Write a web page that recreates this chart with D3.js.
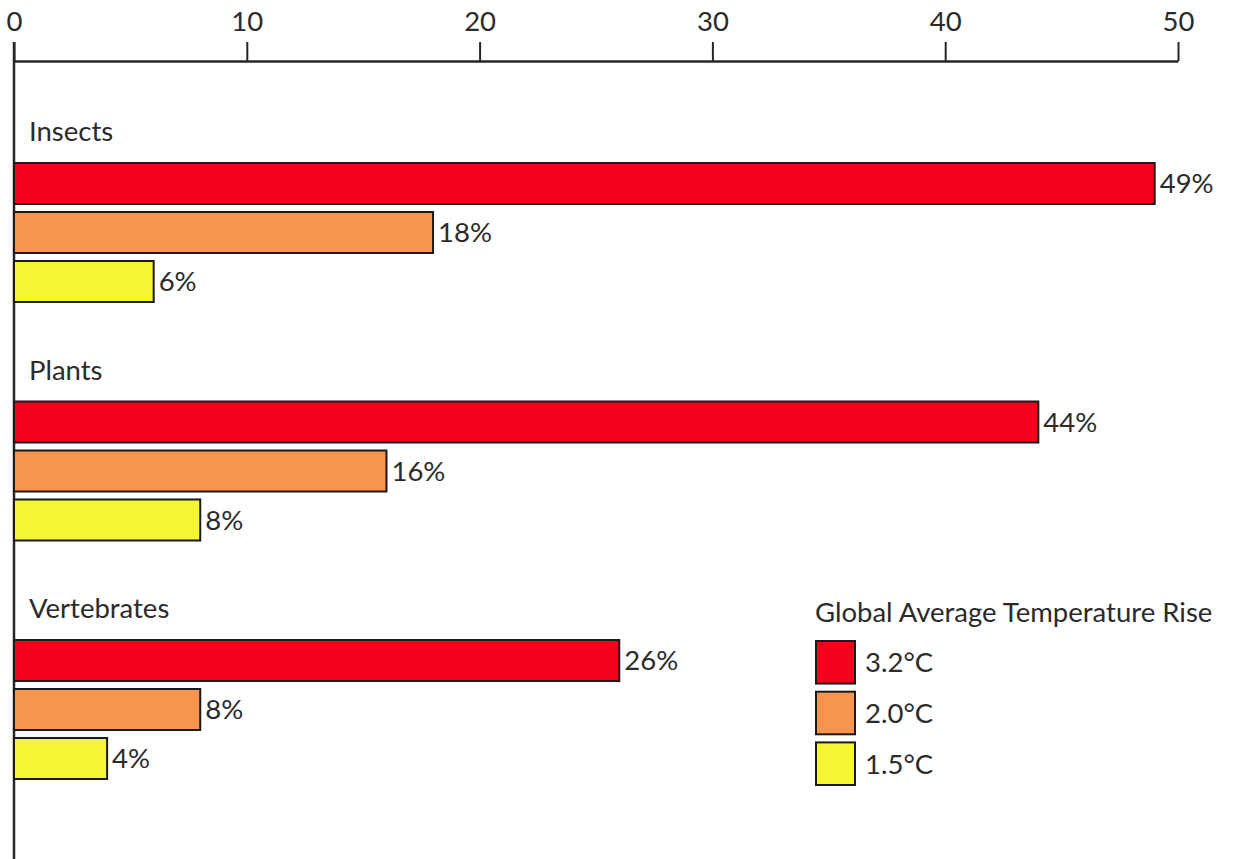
<!DOCTYPE html>
<html>
<head>
<meta charset="utf-8">
<script src="https://cdn.jsdelivr.net/npm/d3@7"></script>
<style>
  html, body { margin: 0; padding: 0; background: #ffffff; }
  svg text { font-family: Lato, "Open Sans", sans-serif; fill: #2b2b2b; }
</style>
</head>
<body>
<svg id="chart" width="1233" height="859"></svg>
<script>
// Share of species projected to lose over half their range
const categories = ["Insects", "Plants", "Vertebrates"];
const scenarios = ["3.2°C", "2.0°C", "1.5°C"];
const values32 = [49, 44, 26];
const values20 = [18, 16, 8];
const values15 = [6, 8, 4];
const tickValues = [0, 10, 20, 30, 40, 50];
const legendTitle = "Global Average Temperature Rise";

const seriesValues = [values32, values20, values15];
const colors = ["#f5001c", "#f7944f", "#f6f533"];
const fontSize = 27.5;

const svg = d3.select("#chart");

const x = d3.scaleLinear().domain([0, 50]).range([14, 1178]);

const yGroup = d3.scaleBand().domain(categories).range([115, 115 + 3 * 238.5]);
const yInner = d3.scaleBand().domain(scenarios).range([48, 187]).paddingInner(0.163);

// Top axis
const axis = d3.axisTop(x).tickValues(tickValues).tickSize(19).tickSizeOuter(0).tickPadding(11);
const gAxis = svg.append("g").attr("transform", "translate(0,61)").call(axis);
gAxis.select(".domain").attr("stroke", "#262626").attr("stroke-width", 2.5);
gAxis.selectAll(".tick line").attr("stroke", "#262626").attr("stroke-width", 2);
gAxis.selectAll(".tick text")
  .attr("font-size", fontSize)
  .attr("font-family", "Lato, 'Open Sans', sans-serif")
  .attr("fill", "#2b2b2b");

// Vertical baseline
svg.append("line")
  .attr("x1", x(0)).attr("x2", x(0))
  .attr("y1", 42).attr("y2", 859)
  .attr("stroke", "#262626").attr("stroke-width", 2.5);

// Groups
const groups = svg.selectAll("g.group")
  .data(categories)
  .join("g")
  .attr("class", "group")
  .attr("transform", d => `translate(0,${yGroup(d)})`);

groups.append("text")
  .attr("x", 29)
  .attr("y", 26)
  .attr("font-size", fontSize)
  .text(d => d);

const rows = groups.selectAll("g.row")
  .data((d, i) => scenarios.map((s, j) => ({ scenario: s, value: seriesValues[j][i], color: colors[j] })))
  .join("g")
  .attr("class", "row");

rows.append("rect")
  .attr("x", x(0))
  .attr("y", d => yInner(d.scenario))
  .attr("width", d => x(d.value) - x(0))
  .attr("height", yInner.bandwidth())
  .attr("fill", d => d.color)
  .attr("stroke", "#1a1a1a")
  .attr("stroke-width", 2);

rows.append("text")
  .attr("x", d => x(d.value) + 5)
  .attr("y", d => yInner(d.scenario) + yInner.bandwidth() / 2)
  .attr("dy", "0.36em")
  .attr("font-size", fontSize)
  .text(d => d.value + "%");

// Legend
const legend = svg.append("g").attr("transform", "translate(815,0)");
legend.append("text")
  .attr("x", 0).attr("y", 622)
  .attr("font-size", fontSize)
  .text(legendTitle);

const legendY = d3.scaleBand().domain(scenarios).range([641, 641 + 3 * 48]).paddingInner(0.16);
const items = legend.selectAll("g.item")
  .data(scenarios.map((s, j) => ({ scenario: s, color: colors[j] })))
  .join("g")
  .attr("class", "item");
items.append("rect")
  .attr("x", 1).attr("y", d => legendY(d.scenario))
  .attr("width", 39).attr("height", legendY.bandwidth())
  .attr("fill", d => d.color)
  .attr("stroke", "#1a1a1a").attr("stroke-width", 2);
items.append("text")
  .attr("x", 50)
  .attr("y", d => legendY(d.scenario) + legendY.bandwidth() / 2)
  .attr("dy", "0.36em")
  .attr("font-size", fontSize)
  .text(d => d.scenario);
</script>
</body>
</html>
